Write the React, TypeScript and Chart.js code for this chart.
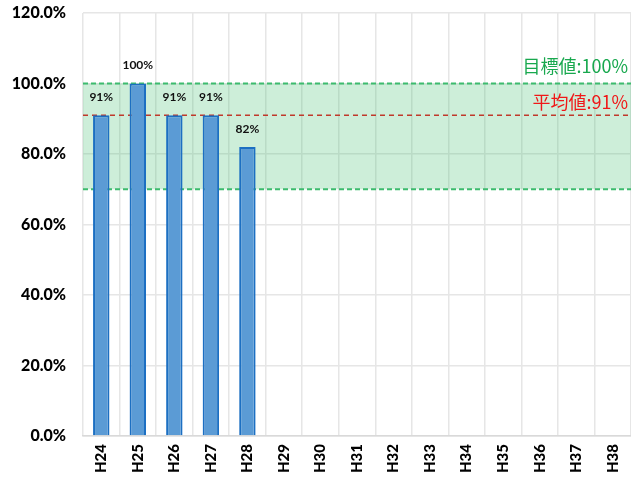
import React, { useEffect, useRef } from "react";
import { Chart, registerables } from "chart.js";

Chart.register(...registerables);

const categories = ["H24","H25","H26","H27","H28","H29","H30","H31","H32","H33","H34","H35","H36","H37","H38"];
const values: (number | null)[] = [91, 100, 91, 91, 82, null, null, null, null, null, null, null, null, null, null];
const targetValue = 100;
const averageValue = 91;
const bandLow = 70;
const bandHigh = 100;
const targetLabel = "目標値:100%";
const averageLabel = "平均値:91%";

const LATIN = "Lato, 'Open Sans', 'Liberation Sans', sans-serif";
const CJK = "'Noto Sans CJK JP', 'Noto Sans', sans-serif";

const overlayPlugin = {
  id: "overlay",
  beforeDatasetsDraw(chart: any) {
    const { ctx, chartArea, scales } = chart;
    const y = scales.y;
    const left = chartArea.left;
    const right = chartArea.right;
    const yHigh = y.getPixelForValue(bandHigh);
    const yLow = y.getPixelForValue(bandLow);
    const yAvg = y.getPixelForValue(averageValue);
    const yTgt = y.getPixelForValue(targetValue);
    ctx.save();
    ctx.fillStyle = "rgba(60, 190, 110, 0.26)";
    ctx.fillRect(left, yHigh, right - left, yLow - yHigh);

    ctx.setLineDash([5, 3]);
    ctx.lineWidth = 2;
    ctx.strokeStyle = "#3DBB6E";
    [yTgt, yLow].forEach((py) => {
      ctx.beginPath();
      ctx.moveTo(left, py);
      ctx.lineTo(right, py);
      ctx.stroke();
    });
    ctx.setLineDash([5, 4]);
    ctx.lineWidth = 1.3;
    ctx.strokeStyle = "#C0392B";
    ctx.beginPath();
    ctx.moveTo(left, yAvg);
    ctx.lineTo(right, yAvg);
    ctx.stroke();
    ctx.setLineDash([]);

    ctx.textAlign = "right";
    ctx.textBaseline = "middle";
    ctx.font = `18px ${CJK}`;
    const textRight = chart.width - 3;
    ctx.fillStyle = "#18A84E";
    ctx.fillText(targetLabel, textRight, yTgt - 17);
    ctx.fillStyle = "#F01818";
    ctx.fillText(averageLabel, textRight, yAvg - 13);
    ctx.restore();
  },
  afterDatasetsDraw(chart: any) {
    const { ctx } = chart;
    const meta = chart.getDatasetMeta(0);
    ctx.save();
    ctx.font = `bold 12px ${LATIN}`;
    ctx.fillStyle = "#111111";
    ctx.textAlign = "center";
    ctx.textBaseline = "middle";
    meta.data.forEach((el: any, i: number) => {
      const v = values[i];
      if (v === null || v === undefined) return;
      ctx.fillText(`${v}%`, el.x, el.y - 18);
    });
    ctx.restore();
  },
};

export default function App() {
  const ref = useRef<HTMLCanvasElement>(null);
  useEffect(() => {
    if (!ref.current) return;
    const chart = new Chart(ref.current, {
      type: "bar",
      data: {
        labels: categories,
        datasets: [
          {
            data: values,
            backgroundColor: "#5B9BD5",
            borderColor: "#1C6FC2",
            borderWidth: 2,
            barPercentage: 0.45,
            categoryPercentage: 1,
          },
        ],
      },
      options: {
        animation: false,
        responsive: false,
        maintainAspectRatio: false,
        layout: { padding: { top: 13, right: -2, bottom: 0, left: 0 } },
        plugins: { legend: { display: false }, tooltip: { enabled: false } },
        scales: {
          x: {
            grid: { color: "#E6E6E6", lineWidth: 1.5, drawTicks: false, offset: true },
            border: { color: "#D9D9D9", width: 1.5 },
            ticks: {
              color: "#000000",
              font: { family: LATIN, size: 15, weight: "900" },
              maxRotation: 90,
              minRotation: 90,
              padding: 8,
              autoSkip: false,
            },
            afterFit: (s: any) => {
              s.height = 44;
              s.paddingLeft = 0;
              s.paddingRight = 0;
            },
          },
          y: {
            min: 0,
            max: 120,
            grid: { color: "#E6E6E6", lineWidth: 1.5, drawTicks: false },
            border: { display: false },
            ticks: {
              stepSize: 20,
              color: "#000000",
              font: { family: LATIN, size: 16, weight: "900" },
              padding: 17,
              callback: (v: any) => `${Number(v).toFixed(1)}%`,
            },
            afterFit: (s: any) => {
              s.width = 83;
              s.paddingTop = 0;
              s.paddingBottom = 0;
            },
          },
        },
      },
      plugins: [overlayPlugin],
    });
    return () => chart.destroy();
  }, []);
  return (
    <div style={{ position: "fixed", left: 0, top: 0, width: 631, height: 480, background: "#fff" }}>
      <canvas ref={ref} width={631} height={480} style={{ width: 631, height: 480, display: "block" }} />
    </div>
  );
}
